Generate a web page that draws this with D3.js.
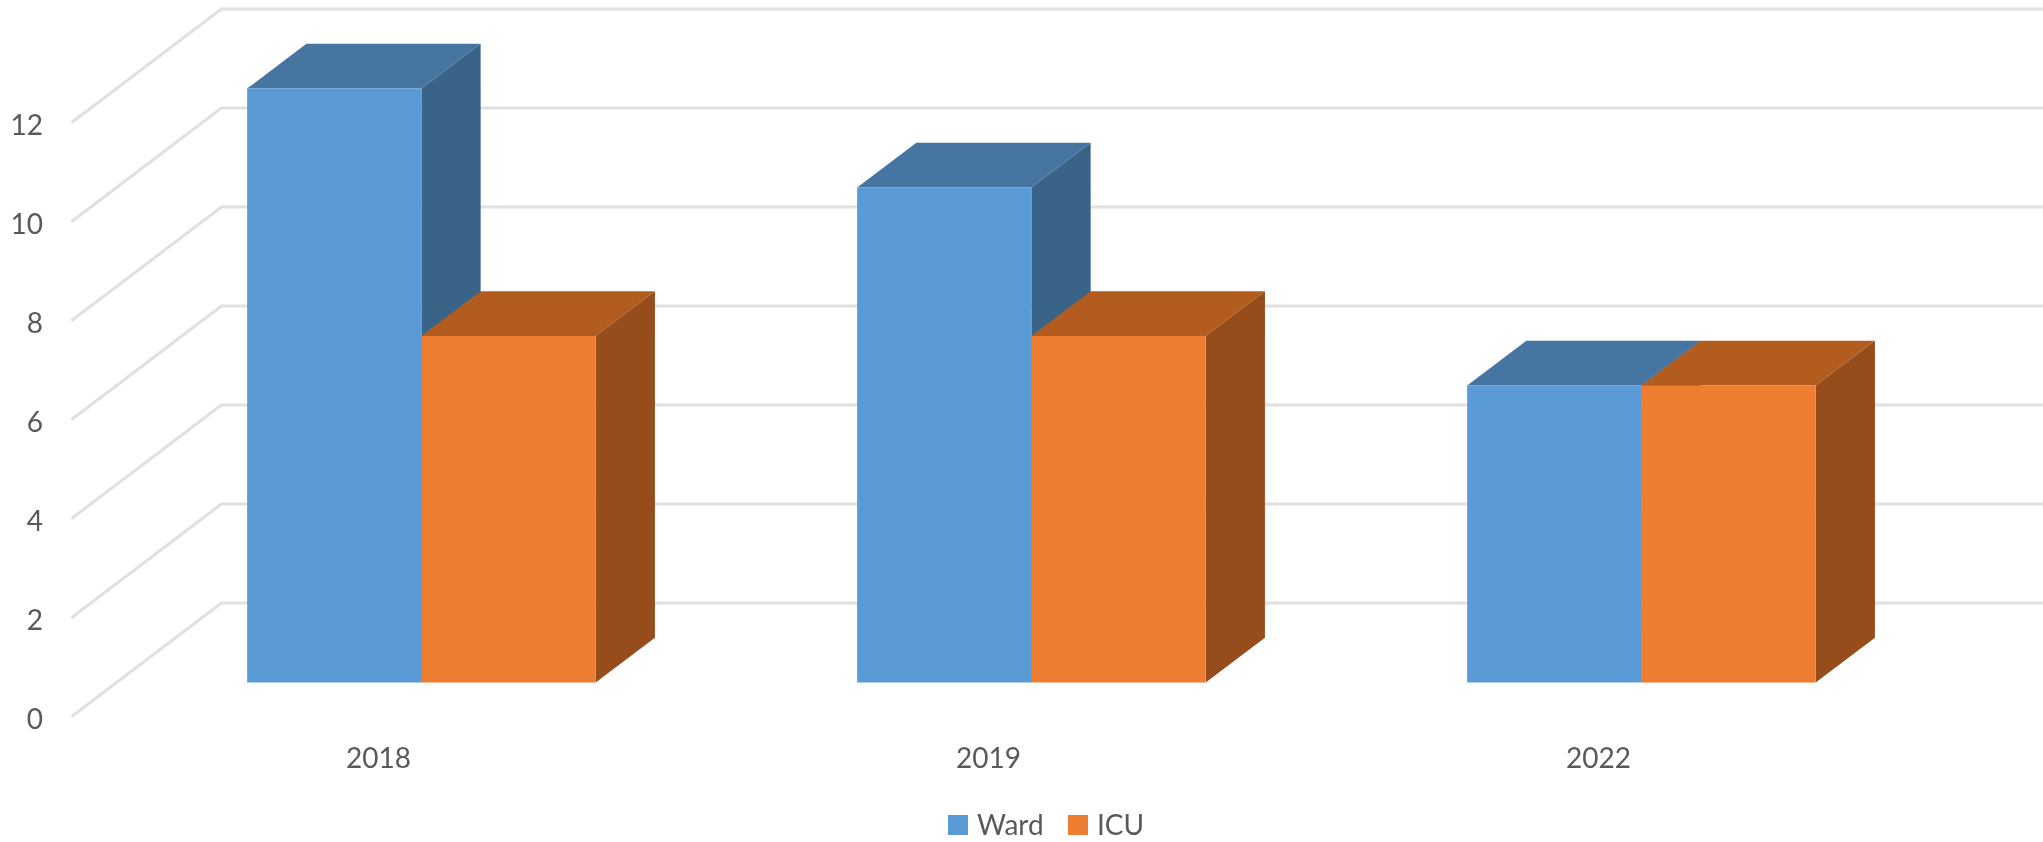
<!DOCTYPE html>
<html>
<head>
<meta charset="utf-8">
<title>Ward and ICU</title>
<script src="https://cdn.jsdelivr.net/npm/d3@7"></script>
<style>
  html, body { margin: 0; padding: 0; background: #fff; overflow: hidden; }
  svg { filter: blur(0.5px); }
  text { font-family: Lato, "Open Sans", sans-serif; font-size: 28px; fill: #595959; }
</style>
</head>
<body>
<svg id="chart" width="2043" height="842"></svg>
<script>
const years = ["2018", "2019", "2022"];
const ward = [12, 10, 6];
const icu = [7, 7, 6];
const yTicks = [0, 2, 4, 6, 8, 10, 12];
const seriesNames = ["Ward", "ICU"];

const seriesColors = {
  Ward: { front: "#5B9BD5", top: "#4675A1", side: "#3A6487" },
  ICU: { front: "#ED7D31", top: "#B35C20", side: "#974D1B" }
};

const svg = d3.select("#chart");

// Front edge of the floor and wall
const xScale = d3.scaleBand()
  .domain(years)
  .range([71.4, 1901.4])
  .paddingInner(0.4286)
  .paddingOuter(0.2143);

const seriesScale = d3.scaleBand()
  .domain(seriesNames)
  .range([0, xScale.bandwidth()]);

const yScale = d3.scaleLinear().domain([0, 12]).range([716.7, 122.7]);

// Oblique projection: depth 0 is the front of the floor, 1 is the back wall
const depthX = d3.scaleLinear().domain([0, 1]).range([0, 150]);
const depthY = d3.scaleLinear().domain([0, 1]).range([0, 113.6]);
const barDepth = [0.3, 0.695];

function project(x, value, depth) {
  return [x + depthX(depth), yScale(value) - depthY(depth)];
}

const line = d3.line();

// Gridlines: side wall plus back wall
svg.append("g").selectAll("path")
  .data(yTicks)
  .enter()
  .append("path")
  .attr("d", d => line([project(71.4, d, 0), project(71.4, d, 1), [2043, yScale(d) - depthY(1)]]))
  .attr("fill", "none")
  .attr("stroke", "#E0E0E0")
  .attr("stroke-width", 3);

// Bars, one record per visible column
const bars = [];
years.forEach((year, i) => {
  bars.push({ year, series: "Ward", value: ward[i] });
  bars.push({ year, series: "ICU", value: icu[i] });
});

const barGroups = svg.append("g").selectAll("g")
  .data(bars)
  .enter()
  .append("g");

function corners(d) {
  const x0 = xScale(d.year) + seriesScale(d.series);
  const x1 = x0 + seriesScale.bandwidth();
  return { x0, x1, v: d.value, d0: barDepth[0], d1: barDepth[1] };
}

barGroups.append("path")
  .attr("d", d => {
    const c = corners(d);
    return line([project(c.x0, c.v, c.d0), project(c.x0, c.v, c.d1), project(c.x1, c.v, c.d1), project(c.x1, c.v, c.d0)]) + "Z";
  })
  .attr("fill", d => seriesColors[d.series].top);

barGroups.append("path")
  .attr("d", d => {
    const c = corners(d);
    return line([project(c.x1, c.v, c.d0), project(c.x1, c.v, c.d1), project(c.x1, 0, c.d1), project(c.x1, 0, c.d0)]) + "Z";
  })
  .attr("fill", d => seriesColors[d.series].side);

barGroups.append("path")
  .attr("d", d => {
    const c = corners(d);
    return line([project(c.x0, c.v, c.d0), project(c.x1, c.v, c.d0), project(c.x1, 0, c.d0), project(c.x0, 0, c.d0)]) + "Z";
  })
  .attr("fill", d => seriesColors[d.series].front);

// Axes
const yAxis = svg.append("g")
  .attr("transform", "translate(43,2.5)")
  .call(d3.axisLeft(yScale).tickValues(yTicks).tickSize(0).tickPadding(0));
yAxis.select(".domain").remove();

const xAxis = svg.append("g")
  .attr("transform", "translate(2,748)")
  .call(d3.axisBottom(xScale).tickSize(0).tickPadding(0));
xAxis.select(".domain").remove();

svg.selectAll(".tick text").style("font-size", "28px").style("font-family", "Lato").style("fill", "#595959");

// Legend
const legendX = d3.scaleOrdinal().domain(seriesNames).range([948, 1068]);

const legendItems = svg.append("g").selectAll("g")
  .data(seriesNames)
  .enter()
  .append("g")
  .attr("transform", d => `translate(${legendX(d)},815)`);

legendItems.append("rect")
  .attr("width", 20)
  .attr("height", 20)
  .attr("fill", d => seriesColors[d].front);

legendItems.append("text")
  .attr("x", 29)
  .attr("y", 20)
  .text(d => d);
</script>
</body>
</html>
